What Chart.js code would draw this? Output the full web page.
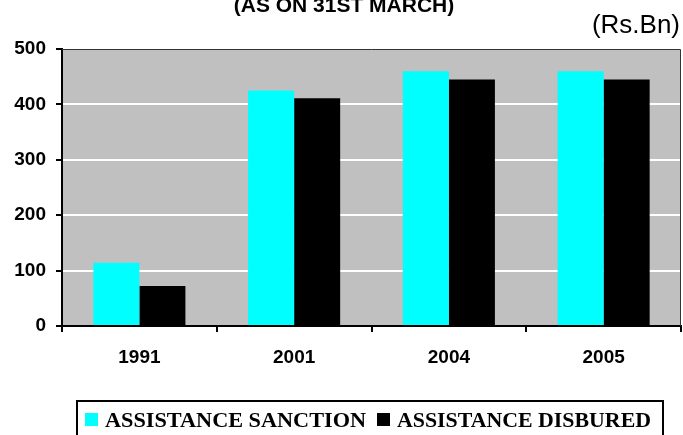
<!DOCTYPE html>
<html>
<head>
<meta charset="utf-8">
<script src="https://cdn.jsdelivr.net/npm/chart.js@4.4.0/dist/chart.umd.min.js"></script>
<style>
  html, body { margin: 0; padding: 0; background: #fff; }
  #wrap { width: 683px; height: 435px; position: relative; }
</style>
</head>
<body>
<div id="wrap"><canvas id="c"></canvas></div>
<script>
// ─── DATA ────────────────────────────────────────────────────────────────────
const years = ['1991', '2001', '2004', '2005'];
const sanctioned = [114, 425, 460, 460];
const disbursed = [72, 411, 445, 445];
const yTicks = [0, 100, 200, 300, 400, 500];
const seriesNames = ['ASSISTANCE SANCTION', 'ASSISTANCE DISBURED'];
const seriesColors = ['#00ffff', '#000000'];

const ARIAL = "'Liberation Sans', Arial, sans-serif";
const TIMES = "'Liberation Serif', 'Times New Roman', serif";

// grey plot background + thin frame on top/right
const plotFrame = {
  id: 'plotFrame',
  beforeDraw(chart) {
    const { ctx, chartArea: a } = chart;
    ctx.save();
    ctx.fillStyle = '#c0c0c0';
    ctx.fillRect(a.left, a.top, a.right - a.left, a.bottom - a.top);
    ctx.restore();
  },
  afterDatasetsDraw(chart) {
    const { ctx, chartArea: a } = chart;
    ctx.save();
    ctx.strokeStyle = '#333';
    ctx.lineWidth = 1;
    ctx.beginPath();
    ctx.moveTo(a.left, a.top + 0.5);
    ctx.lineTo(a.right - 0.5, a.top + 0.5);
    ctx.lineTo(a.right - 0.5, a.bottom);
    ctx.stroke();
    ctx.restore();
  }
};

// title, unit note and boxed legend
const extras = {
  id: 'extras',
  afterDraw(chart) {
    const { ctx } = chart;
    ctx.save();
    ctx.fillStyle = '#000';
    ctx.textBaseline = 'alphabetic';

    ctx.font = `bold 21px ${ARIAL}`;
    ctx.textAlign = 'center';
    ctx.fillText('(AS ON 31ST MARCH)', 344, 12);

    ctx.font = `26px ${ARIAL}`;
    ctx.textAlign = 'right';
    ctx.fillText('(Rs.Bn)', 680, 33);

    // legend box
    ctx.lineWidth = 2;
    ctx.strokeStyle = '#000';
    ctx.strokeRect(77, 401, 586, 50);

    const items = [
      { sq: 85, x0: 105, x1: 366 },
      { sq: 377, x0: 397, x1: 651 }
    ];
    ctx.font = `bold 21px ${TIMES}`;
    ctx.textAlign = 'left';
    items.forEach((it, i) => {
      ctx.fillStyle = seriesColors[i];
      ctx.fillRect(it.sq, 413, 13, 13);
      ctx.fillStyle = '#000';
      const w = ctx.measureText(seriesNames[i]).width;
      ctx.save();
      ctx.translate(it.x0, 427);
      ctx.scale((it.x1 - it.x0) / w, 1);
      ctx.fillText(seriesNames[i], 0, 0);
      ctx.restore();
    });
    ctx.restore();
  }
};

new Chart(document.getElementById('c'), {
  type: 'bar',
  data: {
    labels: years,
    datasets: [
      { label: seriesNames[0], data: sanctioned, backgroundColor: seriesColors[0], borderWidth: 0 },
      { label: seriesNames[1], data: disbursed, backgroundColor: seriesColors[1], borderWidth: 0 }
    ]
  },
  options: {
    responsive: true, maintainAspectRatio: false,
    animation: false,
    devicePixelRatio: 1,
    layout: { padding: { top: 49, right: 2, left: 0, bottom: 0 } },
    plugins: { legend: { display: false }, tooltip: { enabled: false } },
    datasets: { bar: { barPercentage: 1, categoryPercentage: 0.595 } },
    scales: {
      x: {
        grid: { offset: true, drawOnChartArea: false, drawTicks: true, tickLength: 6, color: '#000', lineWidth: 2 },
        border: { color: '#000', width: 2 },
        ticks: { color: '#000', font: { family: ARIAL, size: 19, weight: 'bold' }, padding: 14 },
        afterFit(s) { s.height = 109; }
      },
      y: {
        min: 0, max: 500,
        afterBuildTicks(s) { s.ticks = yTicks.map(v => ({ value: v })); },
        grid: { color: '#ffffff', lineWidth: 2, tickLength: 6, tickColor: '#000', drawTicks: true },
        border: { color: '#000', width: 2 },
        ticks: { color: '#000', font: { family: ARIAL, size: 19, weight: 'bold' }, padding: 10 },
        afterFit(s) { s.width = 62; }
      }
    }
  },
  plugins: [plotFrame, extras]
});
</script>
</body>
</html>
